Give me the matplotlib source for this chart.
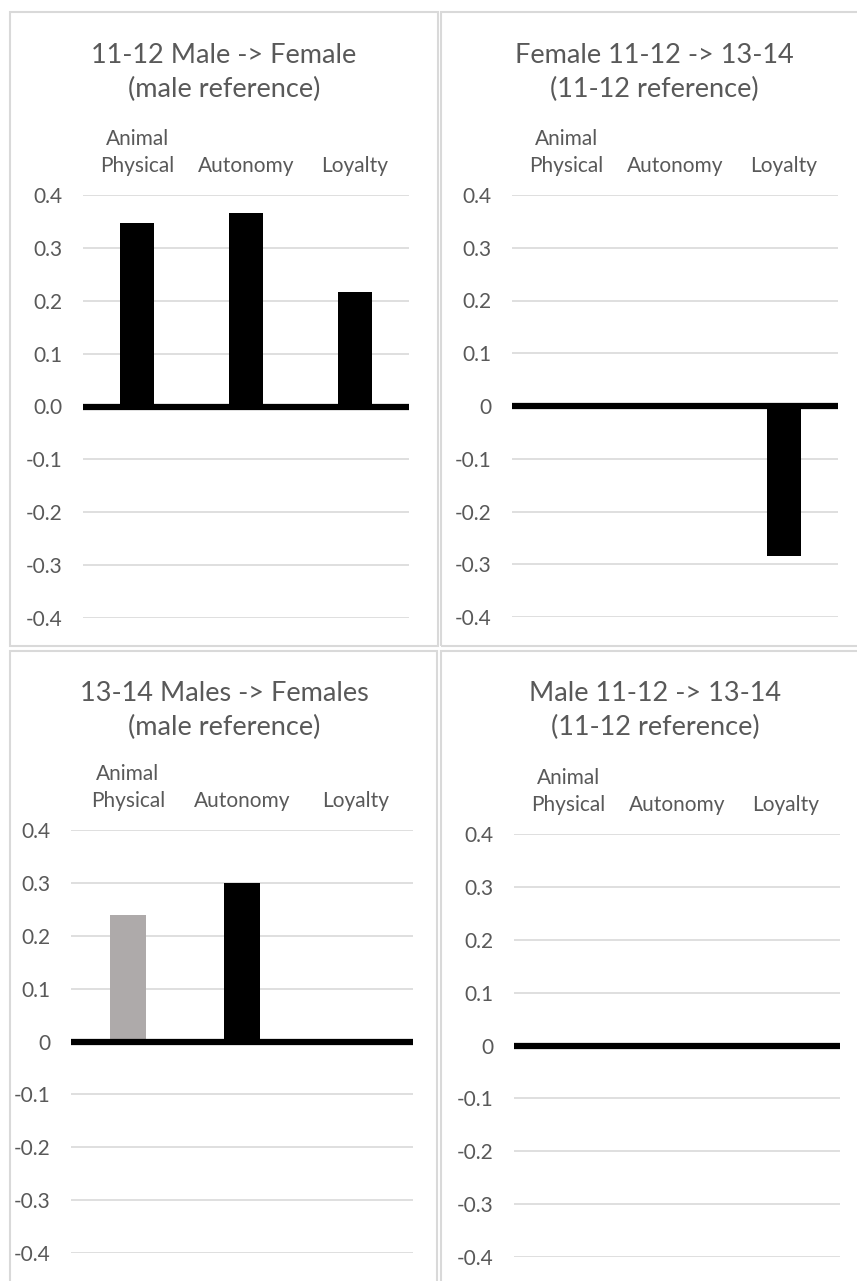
import matplotlib
matplotlib.use("Agg")
import matplotlib.pyplot as plt
from matplotlib.patches import Rectangle

plt.rcParams['font.family'] = ['Lato', 'DejaVu Sans']

W, H = 857, 1281

categories = ["Animal\nPhysical", "Autonomy", "Loyalty"]
yticks = [-0.4, -0.3, -0.2, -0.1, 0.0, 0.1, 0.2, 0.3, 0.4]
ylabels_decimal = ["-0.4", "-0.3", "-0.2", "-0.1", "0.0", "0.1", "0.2", "0.3", "0.4"]
ylabels_plain = ["-0.4", "-0.3", "-0.2", "-0.1", "0", "0.1", "0.2", "0.3", "0.4"]

titles = ["11-12 Male -> Female\n(male reference)",
          "Female 11-12 -> 13-14\n(11-12 reference)",
          "13-14 Males -> Females\n(male reference)",
          "Male 11-12 -> 13-14\n(11-12 reference)"]

male_female_1112 = [0.347, 0.366, 0.217]
female_1112_1314 = [0.0, 0.0, -0.285]
male_female_1314 = [0.239, 0.300, 0.0]
male_1112_1314 = [0.0, 0.0, 0.0]

colors_default = ["black", "black", "black"]
colors_1314 = ["#aeaaaa", "black", "black"]

text_col = "#595959"
grid_col = "#d9d9d9"

fig = plt.figure(figsize=(W / 100, H / 100), dpi=100)


def px_axes(x0, x1, ytop, ybot):
    return fig.add_axes([x0 / W, 1 - ybot / H, (x1 - x0) / W, (ybot - ytop) / H])


def panel_box(x0, x1, y0, y1):
    fig.add_artist(Rectangle((x0 / W, 1 - y1 / H), (x1 - x0) / W, (y1 - y0) / H,
                             transform=fig.transFigure, fill=False,
                             ec=grid_col, lw=1.5))


def draw_panel(ax, values, colors, ylabels, title, tx, ty):
    x = range(len(categories))
    ax.bar(x, values, width=0.31, color=colors, zorder=2)
    ax.axhline(0, color="black", lw=4.5, zorder=3, solid_capstyle="butt")
    ax.set_xlim(-0.5, len(categories) - 0.5)
    ax.set_ylim(-0.4, 0.4)
    ax.set_yticks(yticks, ylabels)
    ax.set_xticks(list(x), categories)
    ax.xaxis.tick_top()
    ax.yaxis.grid(True, color=grid_col, lw=1.2, zorder=0)
    ax.set_axisbelow(True)
    for s in ax.spines.values():
        s.set_visible(False)
    ax.tick_params(axis="x", length=0, pad=14, labelsize=15, labelcolor=text_col)
    ax.tick_params(axis="y", length=0, pad=15, labelsize=15, labelcolor=text_col)
    plt.setp(ax.get_xticklabels(), linespacing=1.4)
    ax.patch.set_alpha(0)
    # va baseline -> baseline of the last line
    fig.text(tx / W, 1 - ty / H, title, ha="center", va="baseline",
             fontsize=19.5, color=text_col, multialignment="center",
             linespacing=1.45)


# panel borders
panel_box(10, 438, 12, 646)
panel_box(441, 870, 12, 646)
panel_box(10, 437, 651, 1290)
panel_box(441, 870, 651, 1290)

ax1 = px_axes(83, 409, 195, 618)
draw_panel(ax1, male_female_1112, colors_default, ylabels_decimal, titles[0], 224, 97)

ax2 = px_axes(512, 838, 195, 617)
draw_panel(ax2, female_1112_1314, colors_default, ylabels_plain, titles[1], 654, 97)

ax3 = px_axes(71, 413, 830, 1253)
draw_panel(ax3, male_female_1314, colors_1314, ylabels_plain, titles[2], 224, 735)

ax4 = px_axes(514, 840, 834, 1257)
draw_panel(ax4, male_1112_1314, colors_default, ylabels_plain, titles[3], 655, 735)

fig.savefig("out.png", dpi=100)
